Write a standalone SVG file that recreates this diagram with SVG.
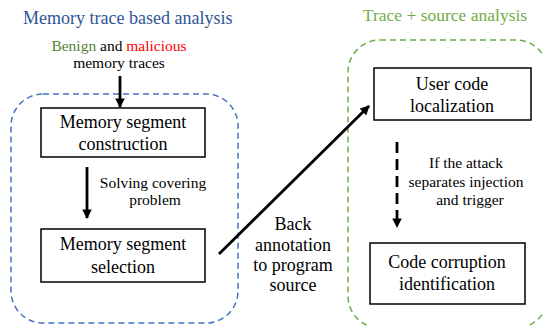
<svg xmlns="http://www.w3.org/2000/svg" width="543" height="326" viewBox="0 0 543 326">
<style>
.b{font-size:18px;text-anchor:middle;fill:#000}
.s{font-size:15.5px;text-anchor:middle;fill:#000}
.box{fill:#fff;stroke:#000;stroke-width:1.5}
.arr{stroke:#000;stroke-width:2.8;fill:none}
</style>
<defs>
<marker id="ah" viewBox="0 0 10 10" refX="9" refY="5" markerWidth="3.4" markerHeight="3.4" markerUnits="strokeWidth" orient="auto">
<path d="M0,0 L10,5 L0,10 Z" fill="#000"/>
</marker>
</defs>
<g id="group-memory">
<rect x="11" y="94" width="227" height="229" rx="32" fill="none" stroke="#4472C4" stroke-width="1.5" stroke-dasharray="6,4"/>
<text x="23" y="24" font-family="Liberation Serif" font-size="18" fill="#2F5597">Memory trace based analysis</text>
</g>
<g id="group-source">
<rect x="348" y="40" width="200" height="288" rx="32" fill="none" stroke="#70AD47" stroke-width="1.5" stroke-dasharray="6,4"/>
<text x="445" y="21" font-family="Liberation Serif" font-size="17.5" text-anchor="middle" fill="#70AD47">Trace + source analysis</text>
</g>
<g id="input">
<text x="119" y="51" font-family="Liberation Serif" class="s"><tspan fill="#548235">Benign</tspan> and <tspan fill="#FF0000">malicious</tspan></text>
<text x="119" y="68" font-family="Liberation Serif" class="s">memory traces</text>
</g>
<g id="construction">
<rect x="41" y="108" width="164" height="49" class="box"/>
<text x="123" y="128" font-family="Liberation Serif" class="b">Memory segment</text>
<text x="123" y="150" font-family="Liberation Serif" class="b">construction</text>
</g>
<g id="selection">
<rect x="41" y="229" width="164" height="53" class="box"/>
<text x="123" y="250" font-family="Liberation Serif" class="b">Memory segment</text>
<text x="123" y="273" font-family="Liberation Serif" class="b">selection</text>
</g>
<g id="localization">
<rect x="374" y="68" width="157" height="52" class="box"/>
<text x="452" y="90" font-family="Liberation Serif" class="b">User code</text>
<text x="452" y="112" font-family="Liberation Serif" class="b">localization</text>
</g>
<g id="corruption">
<rect x="370" y="243" width="155" height="61" class="box"/>
<text x="447" y="268" font-family="Liberation Serif" class="b">Code corruption</text>
<text x="447" y="290" font-family="Liberation Serif" class="b">identification</text>
</g>
<g id="connectors">
<line x1="120" y1="76" x2="120" y2="107" class="arr" marker-end="url(#ah)"/>
<line x1="87" y1="167" x2="87" y2="218" class="arr" marker-end="url(#ah)"/>
<line x1="219" y1="254" x2="369" y2="106" class="arr" marker-end="url(#ah)"/>
<line x1="397" y1="142" x2="397" y2="227" class="arr" stroke-dasharray="11,6" marker-end="url(#ah)"/>
<text x="153" y="188" font-family="Liberation Serif" class="s">Solving covering</text>
<text x="155" y="205" font-family="Liberation Serif" class="s">problem</text>
<text x="293" y="230" font-family="Liberation Serif" class="b">Back</text>
<text x="293" y="251" font-family="Liberation Serif" class="b">annotation</text>
<text x="293" y="271" font-family="Liberation Serif" class="b">to program</text>
<text x="293" y="291" font-family="Liberation Serif" class="b">source</text>
<text x="466" y="168" font-family="Liberation Serif" class="s">If the attack</text>
<text x="466" y="187" font-family="Liberation Serif" class="s">separates  injection</text>
<text x="470" y="205" font-family="Liberation Serif" class="s">and trigger</text>
</g>
</svg>
